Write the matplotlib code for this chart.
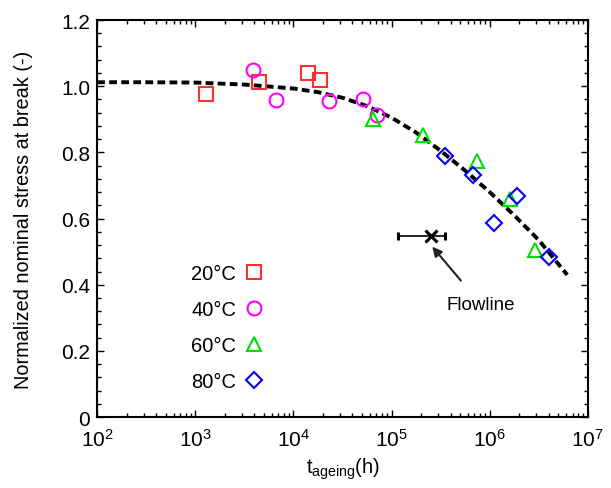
import matplotlib
matplotlib.use('Agg')
import matplotlib.pyplot as plt
import numpy as np
from matplotlib.ticker import MultipleLocator, LogLocator, NullFormatter

plt.rcParams['font.family'] = ['Liberation Sans', 'DejaVu Sans']
plt.rcParams['mathtext.fontset'] = 'custom'
plt.rcParams['mathtext.rm'] = 'Liberation Sans'
plt.rcParams['mathtext.it'] = 'Liberation Sans'

# measured points, ageing time (h) vs normalized stress at break
t_20 = [1.3e3, 4.5e3, 1.4e4, 1.85e4]
s_20 = [0.976, 1.012, 1.040, 1.018]
t_40 = [3.9e3, 6.6e3, 2.3e4, 5.1e4, 7.1e4]
s_40 = [1.048, 0.958, 0.955, 0.961, 0.912]
t_60 = [6.5e4, 2.1e5, 7.4e5, 1.6e6, 2.9e6]
s_60 = [0.900, 0.852, 0.773, 0.659, 0.505]
t_80 = [3.5e5, 6.7e5, 1.9e6, 1.1e6, 4.0e6]
s_80 = [0.789, 0.731, 0.668, 0.586, 0.483]

# flowline point with its time range
t_flow = 2.5e5
s_flow = 0.547
t_flow_lo = 1.17e5
t_flow_hi = 3.5e5

# master curve (log10 of time, stress)
curve_logt = [2.0, 2.5, 3.0, 3.5, 4.0, 4.25, 4.5, 4.75, 5.0, 5.25, 5.5, 5.75, 6.0, 6.25, 6.5, 6.79]
curve_s = [1.012, 1.012, 1.011, 1.005, 0.993, 0.982, 0.965, 0.940, 0.905, 0.860, 0.805, 0.745, 0.680, 0.610, 0.535, 0.430]

fig = plt.figure(figsize=(6.11, 4.89), dpi=100)
ax = fig.add_axes([0.159, 0.145, 0.803, 0.812])

ax.plot(10 ** np.array(curve_logt), curve_s, color='black', lw=2.8, ls=(0, (2.0, 1.1)), zorder=2)

ms = 9.5
mew = 1.5
ax.plot(t_20, s_20, ls='none', marker='s', ms=ms, mfc='none', mec='#ff3030', mew=mew, label='20°C', zorder=3)
ax.plot(t_40, s_40, ls='none', marker='o', ms=ms + 0.5, mfc='none', mec='#ff00ff', mew=mew, label='40°C', zorder=3)
ax.plot(t_60, s_60, ls='none', marker='^', ms=ms + 0.5, mfc='none', mec='#00e000', mew=mew, label='60°C', zorder=3)
ax.plot(t_80, s_80, ls='none', marker='D', ms=ms - 1.5, mfc='none', mec='#0000ff', mew=mew, label='80°C', zorder=3)

ax.errorbar([t_flow], [s_flow], xerr=[[t_flow - t_flow_lo], [t_flow_hi - t_flow]],
            fmt='x', color='black', ms=8, mew=2.2, elinewidth=1.2, capsize=3, capthick=1.2, zorder=4)
ax.annotate('Flowline', xy=(2.6e5, 0.515), xytext=(8.2e5, 0.34), fontsize=13.5,
            ha='center', va='center',
            arrowprops=dict(arrowstyle='-|>', color='#222222', lw=1.5, mutation_scale=14,
                            shrinkA=12, shrinkB=0))

ax.set_xscale('log')
ax.set_xlim(1e2, 1e7)
ax.set_ylim(0, 1.2)
ax.yaxis.set_major_locator(MultipleLocator(0.2))
ax.yaxis.set_minor_locator(MultipleLocator(0.04))
ax.set_yticks([0, 0.2, 0.4, 0.6, 0.8, 1.0, 1.2])
ax.set_yticklabels(['0', '0.2', '0.4', '0.6', '0.8', '1.0', '1.2'])
ax.xaxis.set_major_locator(LogLocator(base=10, numticks=10))
ax.xaxis.set_minor_locator(LogLocator(base=10, subs=np.arange(2, 10), numticks=20))
ax.xaxis.set_minor_formatter(NullFormatter())
ax.tick_params(which='both', direction='in', top=True, right=True, labelsize=15, width=1)
ax.tick_params(which='major', length=5)
ax.tick_params(which='minor', length=3)
ax.tick_params(axis='x', pad=8)
ax.tick_params(axis='y', pad=5)
for sp in ax.spines.values():
    sp.set_linewidth(1.5)

ax.set_xlabel('t$_{\\mathrm{ageing}}$(h)', fontsize=14.5, labelpad=4)
ax.set_ylabel('Normalized nominal stress at break (-)', fontsize=14.3, labelpad=20)

ax.legend(loc='lower left', bbox_to_anchor=(0.155, 0.02), frameon=False, markerfirst=False,
          fontsize=14.5, handlelength=1.0, handletextpad=0.4, labelspacing=0.85)

fig.savefig('out.png', dpi=100)
